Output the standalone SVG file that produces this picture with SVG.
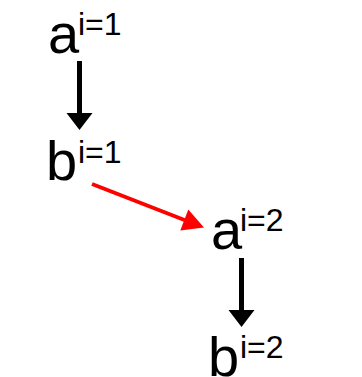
<svg xmlns="http://www.w3.org/2000/svg" width="362" height="377" viewBox="0 0 362 377">
<style>
.m{font-family:"Liberation Sans",Arial,sans-serif;font-size:56px;fill:#000}
.s{font-family:"Liberation Sans",Arial,sans-serif;font-size:32px;fill:#000}
</style>
<rect width="362" height="377" fill="#fff"/>
<g id="a1"><text class="m" x="48" y="53">a</text><text class="s" x="78" y="35">i=1</text></g>
<g id="b1"><text class="m" x="46" y="180">b</text><text class="s" x="78" y="163">i=1</text></g>
<g id="a2"><text class="m" x="211" y="249">a</text><text class="s" x="240" y="231">i=2</text></g>
<g id="b2"><text class="m" x="208" y="376">b</text><text class="s" x="240" y="358">i=2</text></g>
<g id="connectors">
<line x1="79.5" y1="61" x2="79.5" y2="115" stroke="#000" stroke-width="5"/>
<path d="M66.5,113 L92.5,113 L79.5,130 Z" fill="#000"/>
<line x1="92" y1="184" x2="187" y2="221" stroke="#f00" stroke-width="4"/>
<path d="M204,227.5 L180.3,230.6 L188.3,209.5 Z" fill="#f00"/>
<line x1="241.5" y1="258" x2="241.5" y2="312" stroke="#000" stroke-width="5"/>
<path d="M228.5,310 L254.5,310 L241.5,327 Z" fill="#000"/>
</g>
</svg>
